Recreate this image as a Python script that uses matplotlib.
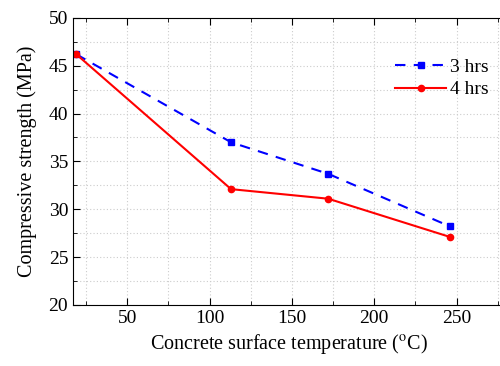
import matplotlib.pyplot as plt
from matplotlib.ticker import MultipleLocator

temp = [19, 113, 172, 246]
strength_3h = [46.2, 37.0, 33.7, 28.2]
strength_4h = [46.2, 32.1, 31.1, 27.1]

plt.rcParams['font.family'] = 'Liberation Serif'
plt.rcParams['mathtext.fontset'] = 'stix'

fig = plt.figure(figsize=(5, 3.66), dpi=100)
ax = fig.add_axes([0.146, 0.167, 0.866, 0.784])

ax.plot(temp, strength_3h, color='blue', linestyle=(0, (5, 4)), linewidth=1.5,
        marker='s', markersize=4, label='3 hrs')
ax.plot(temp, strength_4h, color='red', linestyle='-', linewidth=1.5,
        marker='o', markersize=4.5, label='4 hrs')

ax.set_xlim(17, 280)
ax.set_ylim(20, 50)
ax.xaxis.set_major_locator(MultipleLocator(50))
ax.xaxis.set_minor_locator(MultipleLocator(25))
ax.yaxis.set_major_locator(MultipleLocator(5))
ax.yaxis.set_minor_locator(MultipleLocator(2.5))
ax.tick_params(which='both', direction='in', top=True, right=False, labelsize=14)
ax.tick_params(which='major', length=5)
ax.tick_params(which='minor', length=3)
ax.grid(which='both', color='#cccccc', linestyle=(0, (1, 2)), linewidth=0.8)

ax.set_xlabel('Concrete surface temperature ($^{\\rm o}$C)', fontsize=14.5)
ax.set_ylabel('Compressive strength (MPa)', fontsize=14.5, labelpad=8)
ax.legend(loc='upper right', bbox_to_anchor=(1.0, 0.92), frameon=False,
          fontsize=14, handlelength=2.6, handletextpad=0.2, labelspacing=0.25)

fig.savefig('out.png', dpi=100)
